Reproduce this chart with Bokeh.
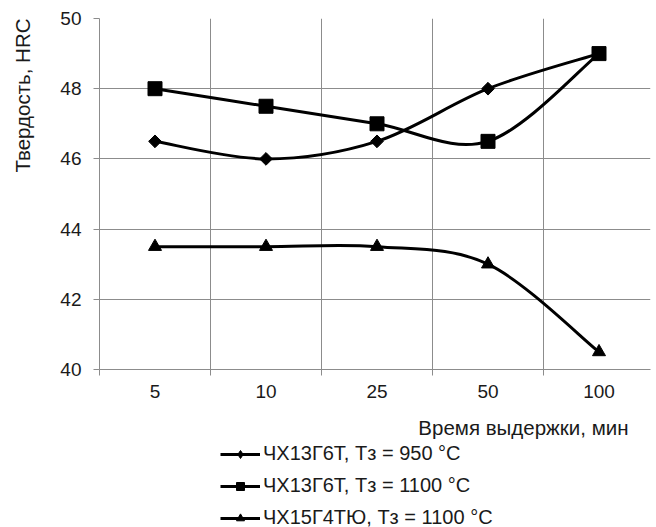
import numpy as np
from bokeh.plotting import figure
from bokeh.layouts import column, row
from bokeh.models import (ColumnDataSource, FixedTicker, Range1d, Legend, LegendItem, Label)
from bokeh.embed import file_html
from bokeh.resources import INLINE

# ---- data ----
categories = ["5", "10", "25", "50", "100"]
s1_label = "ЧХ13Г6Т, Tз = 950 °C"
s2_label = "ЧХ13Г6Т, Tз = 1100 °C"
s3_label = "ЧХ15Г4ТЮ, Tз = 1100 °C"
s1_values = [46.5, 46.0, 46.5, 48.0, 49.0]
s2_values = [48.0, 47.5, 47.0, 46.5, 49.0]
s3_values = [43.5, 43.5, 43.5, 43.0, 40.5]
y_ticks = [40, 42, 44, 46, 48, 50]
x_title = "Время выдержки, мин"
y_title = "Твердость, HRC"

FONT = "Liberation Sans"
TXT = "#1a1a1a"
GRID = "#8c8c8c"

xs = list(range(len(categories)))


def smooth_source(ys):
    """Bezier control points (Excel-like smoothing) computed from the data."""
    n = len(ys)
    P = [(xs[i], ys[i]) for i in range(n)]
    d = dict(x0=[], y0=[], x1=[], y1=[], cx0=[], cy0=[], cx1=[], cy1=[])
    for i in range(n - 1):
        p0 = P[i - 1] if i > 0 else P[i]
        p1, p2 = P[i], P[i + 1]
        p3 = P[i + 2] if i + 2 < n else P[i + 1]
        d["x0"].append(p1[0]); d["y0"].append(p1[1])
        d["x1"].append(p2[0]); d["y1"].append(p2[1])
        d["cx0"].append(p1[0] + (p2[0] - p0[0]) / 6); d["cy0"].append(p1[1] + (p2[1] - p0[1]) / 6)
        d["cx1"].append(p2[0] - (p3[0] - p1[0]) / 6); d["cy1"].append(p2[1] - (p3[1] - p1[1]) / 6)
    return ColumnDataSource(d)


def strip(w, h):
    """Plain strip (no axes) whose ranges equal its pixel size, offset far from the data."""
    f = figure(width=w, height=h, output_backend="svg", toolbar_location=None,
               x_axis_type=None, y_axis_type=None,
               x_range=Range1d(1000, 1000 + w), y_range=Range1d(1000, 1000 + h),
               min_border_left=0, min_border_right=0, min_border_top=0, min_border_bottom=0)
    f.grid.visible = False
    f.outline_line_color = None
    return f


MAIN_H = 410
YSTRIP_W = 44
FRAME_W = 551

p = figure(width=656 - YSTRIP_W, height=MAIN_H, output_backend="svg", toolbar_location=None,
           x_range=Range1d(-0.5, -0.5 + FRAME_W / 111), y_range=Range1d(40, 50),
           min_border_left=99 - YSTRIP_W, min_border_right=6, min_border_top=18,
           min_border_bottom=MAIN_H - 18 - 351)
p.outline_line_color = None
p.background_fill_color = "white"
p.border_fill_color = "white"

boundaries = [i - 0.5 for i in range(len(categories) + 1)]

# x axis
p.xaxis.ticker = FixedTicker(ticks=xs, minor_ticks=boundaries)
p.xaxis.major_label_overrides = {i: c for i, c in enumerate(categories)}
p.xaxis.major_tick_line_color = None
p.xaxis.major_tick_out = 0
p.xaxis.major_tick_in = 0
p.xaxis.minor_tick_line_color = GRID
p.xaxis.minor_tick_out = 6
p.xaxis.minor_tick_in = 0
p.xaxis.axis_line_color = GRID
p.xaxis.major_label_standoff = 9
p.xaxis.major_label_text_font = FONT
p.xaxis.major_label_text_font_size = "19px"
p.xaxis.major_label_text_color = TXT

# y axis
p.yaxis.ticker = FixedTicker(ticks=y_ticks)
p.yaxis.major_tick_line_color = GRID
p.yaxis.major_tick_out = 6
p.yaxis.major_tick_in = 0
p.yaxis.minor_tick_line_color = None
p.yaxis.axis_line_color = GRID
p.yaxis.major_label_standoff = 12
p.yaxis.major_label_text_font = FONT
p.yaxis.major_label_text_font_size = "19px"
p.yaxis.major_label_text_color = TXT

p.xgrid.ticker = FixedTicker(ticks=boundaries)
p.xgrid.grid_line_color = GRID
p.ygrid.ticker = FixedTicker(ticks=y_ticks)
p.ygrid.grid_line_color = GRID

# y-title strip on the left
ys = strip(YSTRIP_W, MAIN_H)
ys.add_layout(Label(x=1000 + 22, y=1000 + MAIN_H - 90, text=y_title, angle=np.pi / 2,
                    text_align="center", text_baseline="middle", text_font=FONT,
                    text_font_size="20.5px", text_color=TXT))

# bottom strip: x title and legend (its glyphs lie outside its ranges, only the legend shows)
LEG_H = 527 - MAIN_H
leg = strip(656, LEG_H)
leg.add_layout(Label(x=1000 + 628, y=1000 + LEG_H - 17, text=x_title,
                     text_align="right", text_baseline="middle", text_font=FONT,
                     text_font_size="20.5px", text_color=TXT))

items = []
series = [(s1_label, s1_values, "square", 9, np.pi / 4),
          (s2_label, s2_values, "square", 14, 0.0),
          (s3_label, s3_values, "triangle", 13, 0.0)]
for k, (label, vals, marker, size, ang) in enumerate(series):
    p.bezier(x0="x0", y0="y0", x1="x1", y1="y1", cx0="cx0", cy0="cy0",
             cx1="cx1", cy1="cy1", source=smooth_source(vals), line_color="black", line_width=3)
    p.scatter(x=xs, y=vals, marker=marker, size=size, angle=ang,
              fill_color="black", line_color="black")
    lb = leg.bezier(x0="x0", y0="y0", x1="x1", y1="y1", cx0="cx0", cy0="cy0",
                    cx1="cx1", cy1="cy1", source=smooth_source(vals), line_color="black", line_width=3)
    lm = leg.scatter(x=xs, y=vals, marker="diamond" if k == 0 else marker, size=size,
                     fill_color="black", line_color="black")
    items.append(LegendItem(label=label, renderers=[lb, lm]))

legend = Legend(items=items, location=(220, -2), orientation="vertical",
                label_text_font=FONT, label_text_font_size="20px", label_text_color=TXT,
                glyph_width=40, glyph_height=20, label_height=20, label_standoff=3,
                spacing=9, padding=0, margin=0, border_line_color=None,
                background_fill_alpha=0)
leg.add_layout(legend, "center")

layout = column(row(ys, p, spacing=0), leg, spacing=0)
open("out.html", "w").write(file_html(layout, INLINE))
